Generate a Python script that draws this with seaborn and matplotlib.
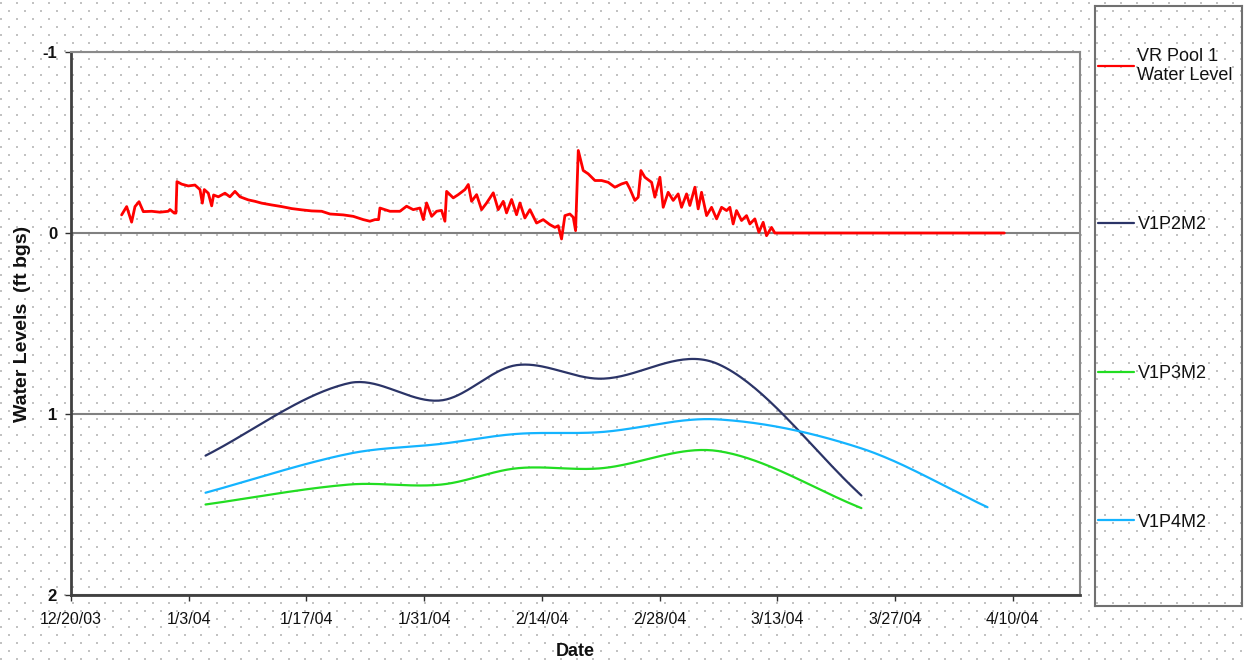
import numpy as np
import pandas as pd
import matplotlib
matplotlib.use("Agg")
import matplotlib.pyplot as plt
import seaborn as sns
from matplotlib.lines import Line2D

# ---------------- data ----------------
start = pd.Timestamp("2003-12-20")
x_end = pd.Timestamp("2004-04-18")

# VR Pool 1 water level: days since 12/20/03, level (ft bgs)
pool_day = [6.02, 6.62, 7.21, 7.61, 8.09, 8.6, 9.59, 10.58, 11.57, 11.77, 12.28, 12.48,
            12.6, 13.16, 13.95, 14.74, 15.34, 15.62, 15.85, 16.33, 16.73, 16.96, 17.52,
            18.31, 18.9, 19.5, 20.1, 21.08, 21.88, 22.67, 23.86, 25.05, 26.24, 27.43,
            28.62, 29.81, 30.8, 32.38, 33.57, 34.76, 35.55, 36.15, 36.58, 36.74, 37.93,
            39.12, 39.91, 40.7, 41.5, 41.9, 42.29, 42.89, 43.48, 44.07, 44.47, 44.67,
            45.46, 46.06, 46.85, 47.25, 47.64, 48.24, 48.83, 49.43, 50.22, 50.81, 51.41,
            51.8, 52.4, 52.99, 53.39, 53.98, 54.58, 55.37, 56.16, 56.96, 57.55, 57.95,
            58.34, 58.74, 59.33, 59.73, 60.01, 60.33, 60.92, 61.51, 62.31, 63.1, 63.89,
            64.68, 65.48, 66.07, 66.47, 67.06, 67.46, 67.78, 68.25, 69.05, 69.44, 70.04,
            70.43, 71.02, 71.62, 72.21, 72.61, 73.21, 73.6, 74.2, 74.59, 74.99, 75.59,
            76.18, 76.78, 77.37, 77.97, 78.36, 78.75, 79.15, 79.75, 80.34, 80.74, 81.33,
            81.81, 82.32, 82.72, 83.31, 83.71, 111.0]
pool_level = [-0.10, -0.146, -0.06, -0.146, -0.173, -0.118, -0.12, -0.115, -0.12, -0.13,
              -0.11, -0.11, -0.284, -0.27, -0.26, -0.265, -0.24, -0.165, -0.24, -0.22,
              -0.15, -0.21, -0.2, -0.22, -0.2, -0.23, -0.2, -0.183, -0.175, -0.165,
              -0.155, -0.146, -0.135, -0.128, -0.122, -0.12, -0.105, -0.10, -0.092,
              -0.074, -0.065, -0.074, -0.074, -0.138, -0.12, -0.12, -0.148, -0.129,
              -0.138, -0.074, -0.166, -0.092, -0.12, -0.125, -0.065, -0.23, -0.194,
              -0.212, -0.24, -0.268, -0.175, -0.212, -0.129, -0.166, -0.222, -0.129,
              -0.175, -0.111, -0.185, -0.101, -0.166, -0.083, -0.129, -0.055, -0.074,
              -0.046, -0.031, -0.04, 0.033, -0.096, -0.105, -0.087, -0.013, -0.456,
              -0.345, -0.327, -0.29, -0.29, -0.28, -0.253, -0.271, -0.28, -0.244, -0.18,
              -0.198, -0.345, -0.308, -0.28, -0.198, -0.308, -0.142, -0.225, -0.18,
              -0.216, -0.142, -0.216, -0.152, -0.253, -0.133, -0.225, -0.096, -0.142,
              -0.078, -0.142, -0.124, -0.142, -0.05, -0.124, -0.069, -0.096, -0.05,
              -0.078, -0.004, -0.059, 0.015, -0.031, 0.0, 0.0]

well_dates = ["2004-01-05", "2004-01-22", "2004-02-02", "2004-02-11",
              "2004-02-21", "2004-03-06", "2004-03-23"]
v1p2m2 = [1.23, 0.83, 0.925, 0.73, 0.805, 0.725, 1.45]
v1p3m2 = [1.50, 1.39, 1.39, 1.30, 1.30, 1.205, 1.52]
v1p4m2_dates = well_dates + ["2004-04-07"]
v1p4m2 = [1.435, 1.22, 1.165, 1.11, 1.10, 1.03, 1.19, 1.515]

labels = ["VR Pool 1\nWater Level", "V1P2M2", "V1P3M2", "V1P4M2"]
colors = ["#ff0000", "#2b3467", "#22dd22", "#14b4ff"]
tick_dates = pd.date_range("2003-12-20", periods=9, freq="14D")
y_ticks = [-1, 0, 1, 2]


def smooth(dates, vals, n=40):
    """Excel-style smoothed line (Catmull-Rom Hermite through points)."""
    t = (pd.to_datetime(dates) - start) / pd.Timedelta(days=1)
    t = np.asarray(t, float)
    v = np.asarray(vals, float)
    m = np.zeros_like(v)
    m[1:-1] = (v[2:] - v[:-2]) / (t[2:] - t[:-2])
    m[0] = (v[1] - v[0]) / (t[1] - t[0])
    m[-1] = (v[-1] - v[-2]) / (t[-1] - t[-2])
    xs, ys = [], []
    for i in range(len(t) - 1):
        h = t[i + 1] - t[i]
        s = np.linspace(0, 1, n, endpoint=(i == len(t) - 2))
        h00 = 2 * s**3 - 3 * s**2 + 1
        h10 = s**3 - 2 * s**2 + s
        h01 = -2 * s**3 + 3 * s**2
        h11 = s**3 - s**2
        xs.append(t[i] + s * h)
        ys.append(h00 * v[i] + h10 * h * m[i] + h01 * v[i + 1] + h11 * h * m[i + 1])
    xs = np.concatenate(xs)
    return start + pd.to_timedelta(xs, unit="D"), np.concatenate(ys)


# ---------------- figure ----------------
sns.set_theme(style="white")
plt.rcParams["font.family"] = ["Liberation Sans", "DejaVu Sans"]

W, H = 1246, 665
fig = plt.figure(figsize=(W / 100, H / 100), dpi=100, facecolor="white")

# dotted background pattern
bg = fig.add_axes([0, 0, 1, 1], zorder=-5)
bg.set_xlim(0, W)
bg.set_ylim(H, 0)
bg.axis("off")
gx1, gy1 = np.meshgrid(np.arange(1, W, 16), np.arange(3, H, 16))
gx2, gy2 = np.meshgrid(np.arange(9, W, 16), np.arange(11, H, 16))
bg.scatter(np.r_[gx1.ravel(), gx2.ravel()], np.r_[gy1.ravel(), gy2.ravel()],
           s=1.5, marker="s", color="#c2c2c2", linewidths=0)

L, R, T, B = 71, 1080, 52, 595
ax = fig.add_axes([L / W, (H - B) / H, (R - L) / W, (B - T) / H])
ax.set_facecolor("none")

pool_dates = start + pd.to_timedelta(np.asarray(pool_day), unit="D")
sns.lineplot(x=pool_dates, y=pool_level, ax=ax, color=colors[0], lw=2.0,
             estimator=None, sort=False, legend=False, zorder=5)
for d, v, c in [(well_dates, v1p2m2, colors[1]), (well_dates, v1p3m2, colors[2]),
                (v1p4m2_dates, v1p4m2, colors[3])]:
    xs, ys = smooth(d, v)
    sns.lineplot(x=xs, y=ys, ax=ax, color=c, lw=1.6, estimator=None, sort=False,
                 legend=False, zorder=5)

ax.set_xlim(start, x_end)
ax.set_ylim(2, -1)
ax.set_yticks(y_ticks)
ax.set_yticklabels([str(v) for v in y_ticks], fontweight="bold", fontsize=12)
ax.set_xticks(tick_dates)
ax.set_xticklabels([f"{d.month}/{d.day}/{d:%y}" for d in tick_dates], fontsize=11.5)
ax.tick_params(axis="both", direction="out", length=4, width=1, color="#303030",
               labelcolor="#111111", left=True, bottom=True)
ax.tick_params(axis="x", pad=8)
ax.tick_params(axis="y", pad=6)
ax.yaxis.grid(True, color="#808080", lw=1.5, zorder=1)
ax.xaxis.grid(False)
for side in ["top", "right"]:
    ax.spines[side].set_color("#8a8a8a")
    ax.spines[side].set_linewidth(1.5)
for side in ["left", "bottom"]:
    ax.spines[side].set_color("#404040")
    ax.spines[side].set_linewidth(2)

ax.set_xlabel("Date", fontsize=13, fontweight="bold", labelpad=12, color="#111111")
ax.set_ylabel("Water Levels  (ft bgs)", fontsize=14, fontweight="bold", labelpad=8,
              color="#111111")

# legend box
lx0, lx1, ly0, ly1 = 1095, 1242, 6, 606
lax = fig.add_axes([lx0 / W, (H - ly1) / H, (lx1 - lx0) / W, (ly1 - ly0) / H])
lax.set_facecolor("none")
lax.set_xticks([])
lax.set_yticks([])
for s in lax.spines.values():
    s.set_color("#707070")
    s.set_linewidth(1.5)
handles = [Line2D([], [], color=c, lw=1.6) for c in colors]
leg = lax.legend(handles, labels, loc="upper left", bbox_to_anchor=(0.0, 0.935),
                 frameon=False, fontsize=13, handlelength=2.0, handletextpad=0.2,
                 labelspacing=7.3, borderaxespad=0.0, borderpad=0.15)
for t in leg.get_texts():
    t.set_color("#111111")

fig.savefig("out.png", dpi=100, facecolor="white")
